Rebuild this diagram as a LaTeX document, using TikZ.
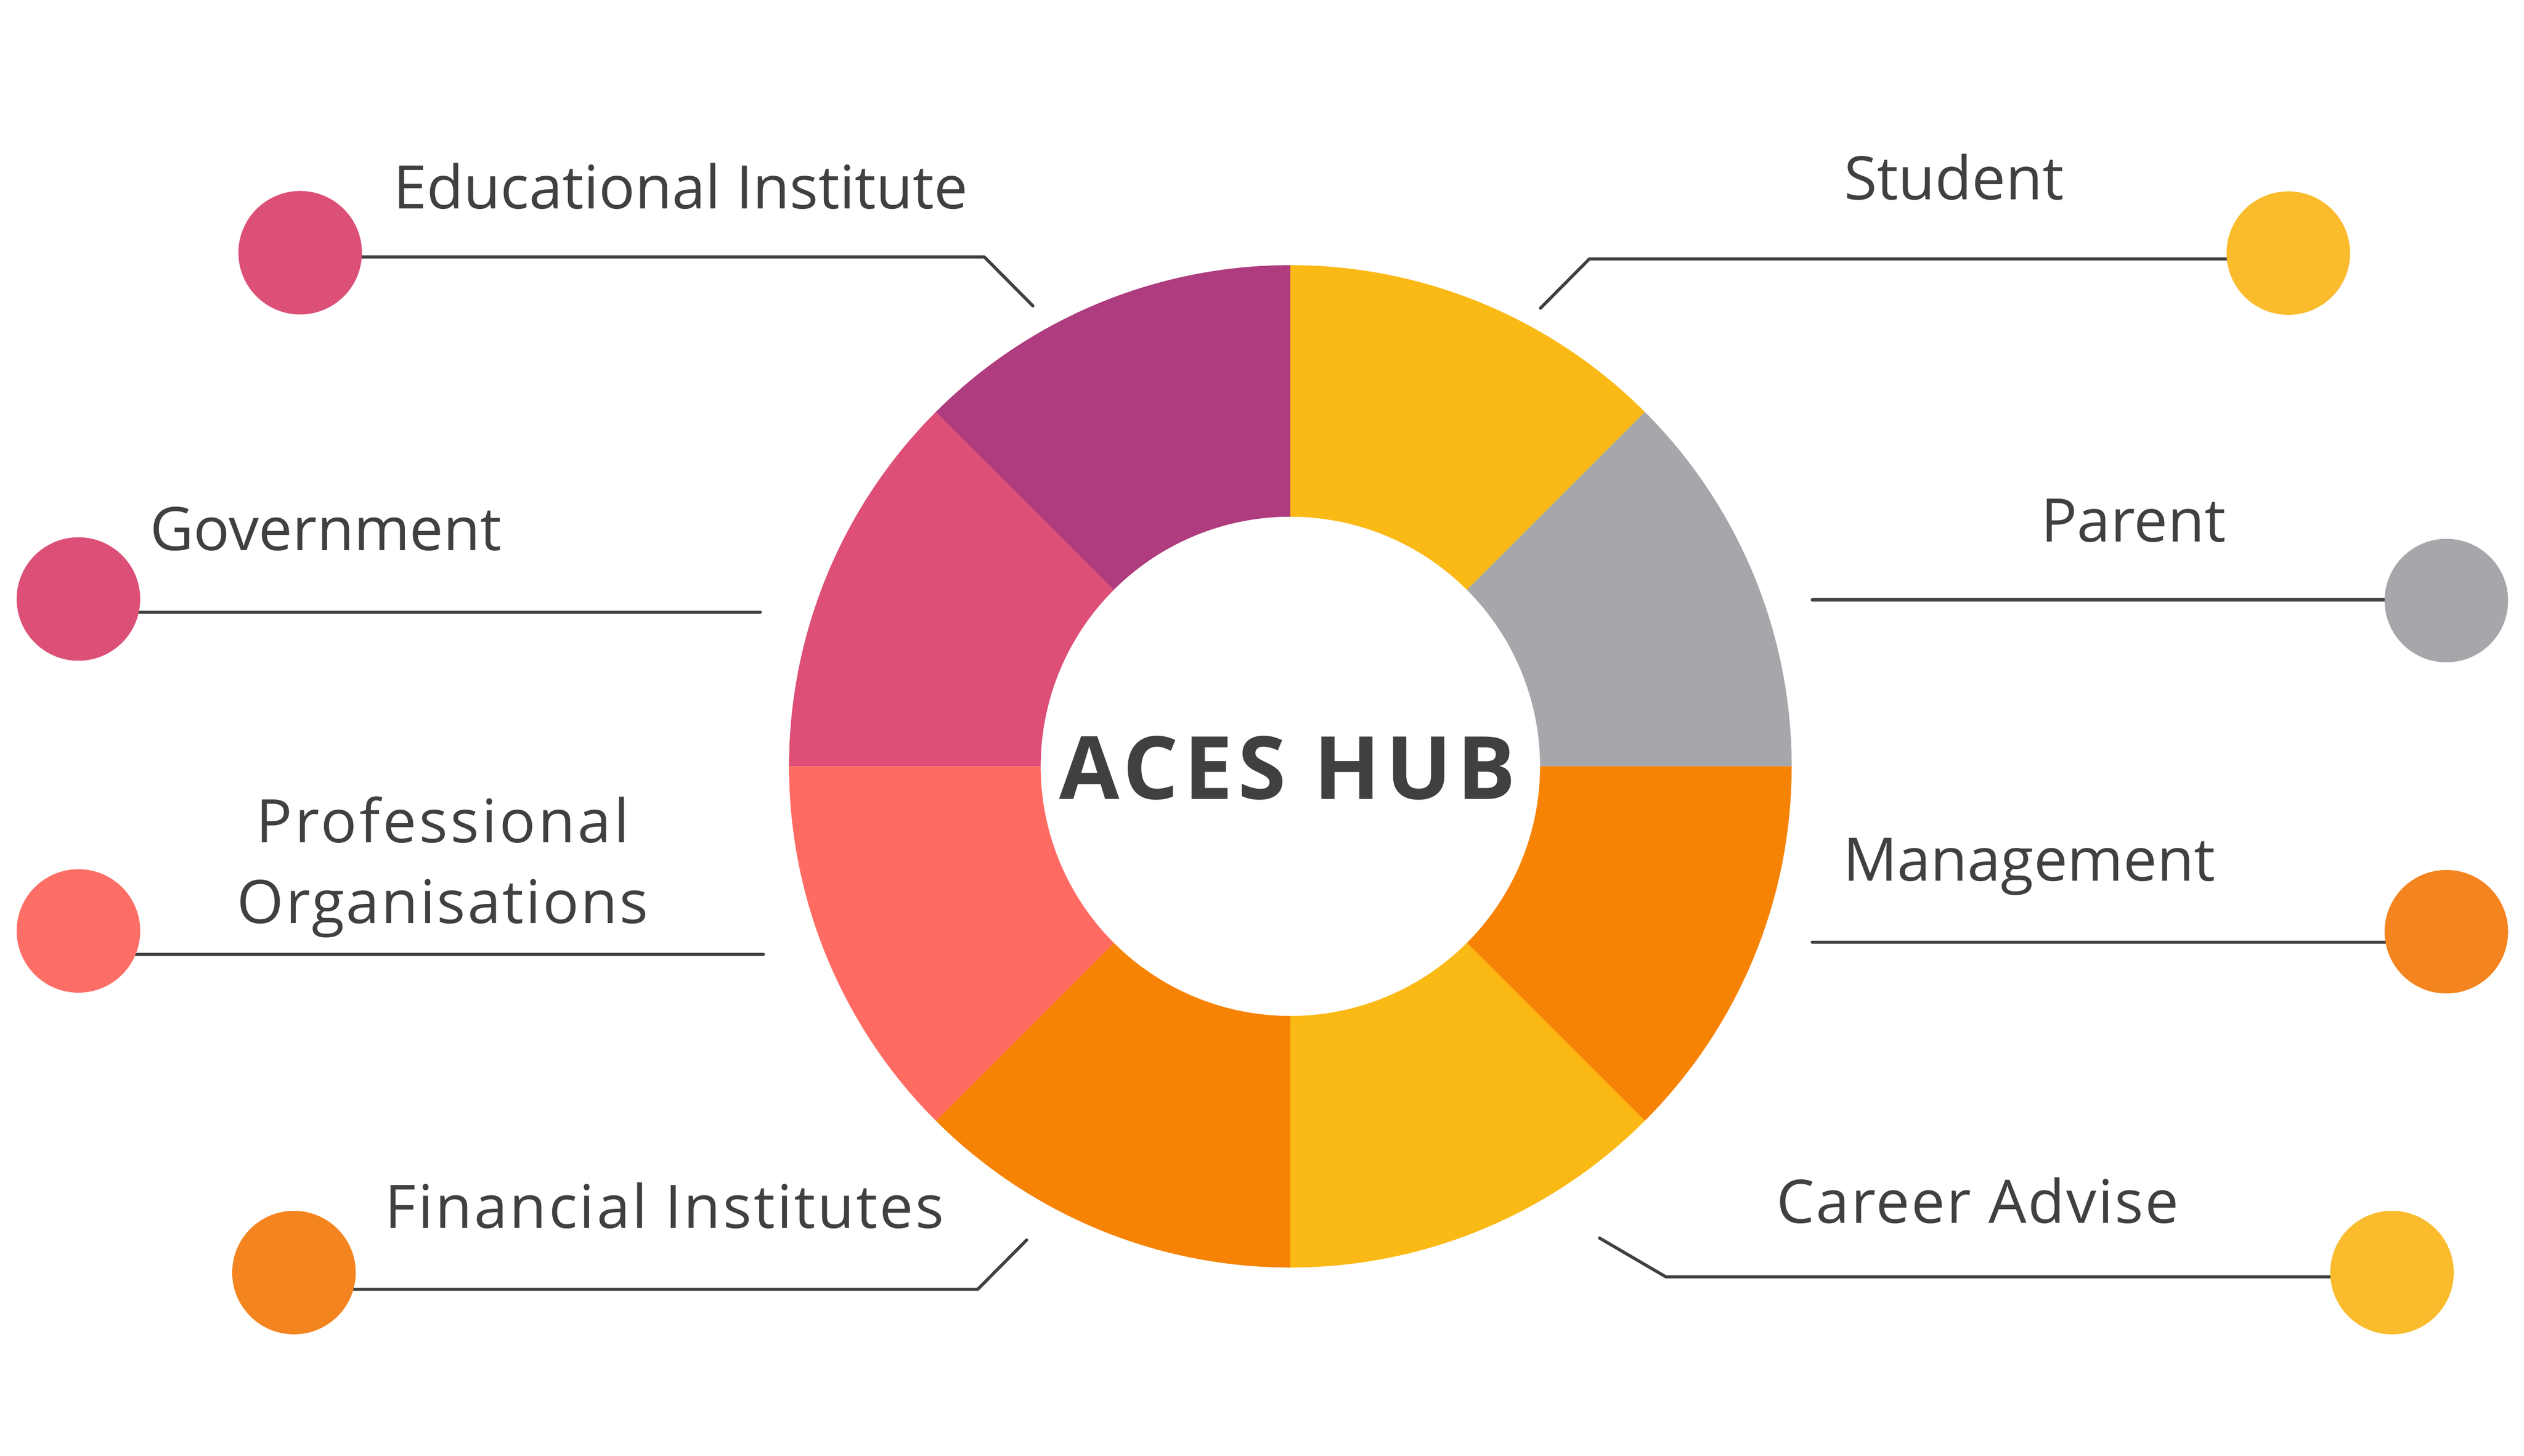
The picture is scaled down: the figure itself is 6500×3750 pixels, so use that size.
\documentclass[tikz,border=0pt]{standalone}
\usepackage{fontspec}
\setmainfont{Open Sans}
\newfontfamily\hubfont[LetterSpace=6]{Open Sans}
\usetikzlibrary{calc,backgrounds}
\definecolor{txt}{HTML}{404040}
\definecolor{segPurple}{HTML}{AE3C7F}
\definecolor{segPink}{HTML}{DD4F76}
\definecolor{segCoral}{HTML}{FF6B63}
\definecolor{segOrange}{HTML}{F78304}
\definecolor{segYellow}{HTML}{FBB915}
\definecolor{segGray}{HTML}{A6A7AA}
\definecolor{dotPink}{HTML}{DC5077}
\definecolor{dotCoral}{HTML}{FC6E66}
\definecolor{dotOrange}{HTML}{F4841F}
\definecolor{dotYellow}{HTML}{FABB2C}
\definecolor{dotGray}{HTML}{A7A7AB}
\begin{document}
\begin{tikzpicture}[x=0.05mm,y=-0.05mm,
  dot/.style={circle,minimum size=15.9mm,inner sep=0pt,draw=none},
  conn/.style={draw=txt,line width=0.4mm,line cap=round,line join=round},
  lbl/.style={text=txt,inner sep=0pt,font=\fontsize{22}{29.6}\selectfont},
  hubtext/.style={text=txt,inner sep=0pt,font=\hubfont\bfseries\fontsize{32}{38}\selectfont}
]
\useasboundingbox (0,0) rectangle (6500,3750);

% donut
\coordinate (C) at (3323,1974);
\foreach \a/\b/\c in {-90/-45/segYellow,-45/0/segGray,0/45/segOrange,45/90/segYellow,90/135/segOrange,135/180/segCoral,180/225/segPink,225/270/segPurple}{
  \fill[\c] ($(C)+(\a:1291)$) arc[start angle=\a,end angle=\b,radius=1291]
     -- ($(C)+(\b:643)$) arc[start angle=\b,end angle=\a,radius=643] -- cycle;
}
\node[hubtext] (hub) at (3316,1978) {ACES HUB};

% dots
\node[dot,fill=dotPink]   (edu)  at (773,651)   {};
\node[dot,fill=dotPink]   (gov)  at (202,1543)  {};
\node[dot,fill=dotCoral]  (prof) at (202,2398)  {};
\node[dot,fill=dotOrange] (fin)  at (757,3278)  {};
\node[dot,fill=dotYellow] (stu)  at (5893,652)  {};
\node[dot,fill=dotGray]   (par)  at (6300,1547) {};
\node[dot,fill=dotOrange] (mgt)  at (6300,2400) {};
\node[dot,fill=dotYellow] (car)  at (6160,3278) {};

% connector points
\coordinate (eduK) at (2535,662);  \coordinate (eduE) at (2660,788);
\coordinate (govE) at (1958,1577);
\coordinate (profE) at (1966,2458);
\coordinate (finK) at (2518,3321); \coordinate (finE) at (2644,3194);
\coordinate (stuK) at (4093,667);  \coordinate (stuE) at (3967,794);
\coordinate (parE) at (4667,1545);
\coordinate (mgtE) at (4667,2427);
\coordinate (carK) at (4290,3289); \coordinate (carE) at (4119,3189);

\begin{scope}[on background layer]
  \draw[conn] (edu.center |- eduK) -- (eduK) -- (eduE);
  \draw[conn] (gov.center |- govE) -- (govE);
  \draw[conn] (prof.center |- profE) -- (profE);
  \draw[conn] (fin.center |- finK) -- (finK) -- (finE);
  \draw[conn] (stu.center |- stuK) -- (stuK) -- (stuE);
  \draw[conn] (par.center |- parE) -- (parE);
  \draw[conn] (mgt.center |- mgtE) -- (mgtE);
  \draw[conn] (car.center |- carK) -- (carK) -- (carE);
\end{scope}

% labels
\node[lbl,anchor=base west] (tEdu)  at (1012,538)  {Educational Institute};
\node[lbl,anchor=base west] (tGov)  at (385,1417)  {Government};
\node[lbl,anchor=base]      (tProf1) at (1140,2170) {\addfontfeature{LetterSpace=4.4}Professional};
\node[lbl,anchor=base]      (tProf2) at (1140,2378) {\addfontfeature{LetterSpace=3}Organisations};
\node[lbl,anchor=base west] (tFin)  at (990,3163) {\addfontfeature{LetterSpace=3.5}Financial Institutes};
\node[lbl,anchor=base]      (tStu)  at (5032,514)  {Student};
\node[lbl,anchor=base]      (tPar)  at (5494,1396) {Parent};
\node[lbl,anchor=base west] (tMgt)  at (4745,2269) {Management};
\node[lbl,anchor=base west] (tCar)  at (4574,3151) {\addfontfeature{LetterSpace=2.7}Career Advise};
\end{tikzpicture}
\end{document}
